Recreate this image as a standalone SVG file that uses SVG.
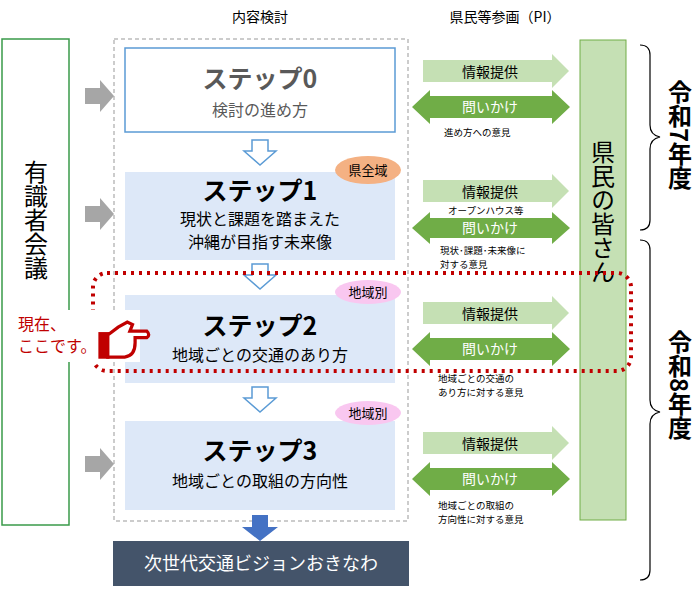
<svg xmlns="http://www.w3.org/2000/svg" width="700" height="589" viewBox="0 0 700 589">
<style>
text{font-family:"Noto Sans CJK JP","Liberation Sans",sans-serif;}
.step{fill:#dde8f8;}
.t1{font-size:25px;font-weight:bold;fill:#000;}
.t2{font-size:16px;fill:#000;}
.info{fill:#c5e0b4;}
.ask{fill:#70ad47;}
.g{fill:#a6a6a6;}
.dn{fill:#fff;stroke:#5b9bd5;stroke-width:1.5;}
.sm{font-size:9.5px;fill:#000;}
</style>
<rect width="700" height="589" fill="#fff"/>
<text x="260" y="22" font-size="14" text-anchor="middle">内容検討</text>
<text x="505" y="22" font-size="14" text-anchor="middle">県民等参画（PI）</text>
<g id="yushiki"><rect x="2" y="39" width="67" height="486" fill="#fff" stroke="#3a9a4a" stroke-width="1.5"/>
<text x="36" y="160" font-size="24" style="writing-mode:vertical-rl">有識者会議</text></g>
<g id="graywarrows">
<polygon class="g" points="85,88 100,88 100,80 114,96 100,112 100,104 85,104"/>
<polygon class="g" points="85,206 100,206 100,198 114,214 100,230 100,222 85,222"/>
<polygon class="g" points="85,456 100,456 100,448 114,464 100,480 100,472 85,472"/>
</g>
<rect x="114" y="39" width="294" height="482" fill="none" stroke="#999" stroke-dasharray="4,3"/>
<g id="step0"><rect x="125" y="48" width="270" height="84" fill="#fff" stroke="#5b9bd5" stroke-width="1.5"/>
<text x="260" y="88" class="t1" text-anchor="middle" style="fill:#595959">ステップ0</text>
<text x="260" y="116" class="t2" text-anchor="middle" style="fill:#595959">検討の進め方</text></g>
<g id="step1"><rect class="step" x="125" y="172" width="270" height="88"/>
<text x="260" y="200" class="t1" text-anchor="middle">ステップ1</text>
<text x="260" y="225" class="t2" text-anchor="middle">現状と課題を踏まえた</text>
<text x="260" y="248" class="t2" text-anchor="middle">沖縄が目指す未来像</text></g>
<g id="step2"><rect class="step" x="125" y="295" width="270" height="88"/>
<text x="260" y="335" class="t1" text-anchor="middle">ステップ2</text>
<text x="260" y="361" class="t2" text-anchor="middle">地域ごとの交通のあり方</text></g>
<g id="step3"><rect class="step" x="125" y="421" width="270" height="89"/>
<text x="260" y="460" class="t1" text-anchor="middle">ステップ3</text>
<text x="260" y="487" class="t2" text-anchor="middle">地域ごとの取組の方向性</text></g>
<g id="connectors">
<polygon class="dn" points="252,140 268,140 268,151 276,151 260,165 244,151 252,151"/>
<polygon class="dn" points="252,264 268,264 268,275 276,275 260,289 244,275 252,275"/>
<polygon class="dn" points="252,387 268,387 268,398 276,398 260,412 244,398 252,398"/>
<polygon fill="#4472c4" points="252,515 268,515 268,527 278,527 260,541 242,527 252,527"/>
</g>
<g id="goal"><rect x="113" y="541" width="296" height="45" fill="#44546a"/>
<text x="261" y="570" font-size="18" fill="#fff" text-anchor="middle">次世代交通ビジョンおきなわ</text></g>
<g id="badge1"><ellipse cx="368" cy="170" rx="33" ry="14" fill="#f4b183"/><text x="368" y="175" font-size="13" text-anchor="middle">県全域</text></g>
<g id="badge2"><ellipse cx="368" cy="292" rx="33" ry="12" fill="#f9c7f0"/><text x="368" y="297" font-size="13" text-anchor="middle">地域別</text></g>
<g id="badge3"><ellipse cx="368" cy="413" rx="33" ry="12" fill="#f9c7f0"/><text x="368" y="418" font-size="13" text-anchor="middle">地域別</text></g>
<g id="pi">
<g>
<polygon class="info" points="423,60 552,60 552,54 569,71 552,88 552,82 423,82"/>
<text x="490" y="77" font-size="14" text-anchor="middle">情報提供</text>
<polygon class="ask" points="412,107 430,90 430,96 552,96 552,90 570,107 552,124 552,118 430,118 430,124"/>
<text x="490" y="112" font-size="14" fill="#fff" text-anchor="middle">問いかけ</text>
<text x="444" y="136" class="sm">進め方への意見</text></g>
<g transform="translate(0,120)">
<polygon class="info" points="423,60 552,60 552,54 569,71 552,88 552,82 423,82"/>
<text x="490" y="77" font-size="14" text-anchor="middle">情報提供</text>
<text x="448" y="94" class="sm">オープンハウス等</text>
<polygon class="ask" points="412,108 430,92 430,98 552,98 552,92 570,108 552,124 552,118 430,118 430,124"/>
<text x="490" y="113" font-size="14" fill="#fff" text-anchor="middle">問いかけ</text>
<text x="440" y="134" class="sm">現状･課題･未来像に</text>
<text x="440" y="148" class="sm">対する意見</text></g>
<g transform="translate(0,242)">
<polygon class="info" points="423,60 552,60 552,54 569,71 552,88 552,82 423,82"/>
<text x="490" y="77" font-size="14" text-anchor="middle">情報提供</text>
<polygon class="ask" points="412,107 430,90 430,96 552,96 552,90 570,107 552,124 552,118 430,118 430,124"/>
<text x="490" y="112" font-size="14" fill="#fff" text-anchor="middle">問いかけ</text>
<text x="438" y="140" class="sm">地域ごとの交通の</text>
<text x="438" y="154" class="sm">あり方に対する意見</text></g>
<g transform="translate(0,372)">
<polygon class="info" points="423,60 552,60 552,54 569,71 552,88 552,82 423,82"/>
<text x="490" y="77" font-size="14" text-anchor="middle">情報提供</text>
<polygon class="ask" points="412,107 430,90 430,96 552,96 552,90 570,107 552,124 552,118 430,118 430,124"/>
<text x="490" y="112" font-size="14" fill="#fff" text-anchor="middle">問いかけ</text>
<text x="438" y="137" class="sm">地域ごとの取組の</text>
<text x="438" y="151" class="sm">方向性に対する意見</text></g>
</g>
<g id="kenmin"><rect x="580" y="40" width="46" height="480" fill="#c5e0b4" stroke="#70ad47"/>
<text x="603" y="140" font-size="24" style="writing-mode:vertical-rl">県民の皆さん</text></g>
<g id="braces" fill="none" stroke="#000" stroke-width="1.2">
<path d="M640,45 Q650,45 650,55 L650,125 Q650,135 660,137 Q650,139 650,149 L650,220 Q650,230 640,230"/>
<path d="M640,240 Q650,240 650,250 L650,400 Q650,410 660,412 Q650,414 650,424 L650,570 Q650,580 640,580"/>
</g>
<text x="680" y="80" font-size="24" font-weight="bold" style="writing-mode:vertical-rl">令和7年度</text>
<text x="680" y="330" font-size="24" font-weight="bold" style="writing-mode:vertical-rl">令和8年度</text>
<rect x="93" y="273" width="538" height="98" rx="14" fill="none" stroke="#c00000" stroke-width="4" stroke-dasharray="3,5"/>
<rect x="10" y="310" width="130" height="52" fill="#fff"/>
<text x="18" y="330" font-size="16" fill="#c00000">現在、</text>
<text x="18" y="352" font-size="16" fill="#c00000">ここです。</text>
<g id="hand" fill="#fff" stroke="#c00000" stroke-width="2.5" transform="translate(100,322) scale(1.3) translate(-101,-320)">
<rect x="101" y="329" width="6" height="18" fill="#c00000"/>
<path d="M107,330 L115,324 L122,320 L126,322 L124,327 L137,327 Q140,330 137,332 L128,332 L128,336 Q128,346 120,347 L107,347 Z"/>
</g>
</svg>
